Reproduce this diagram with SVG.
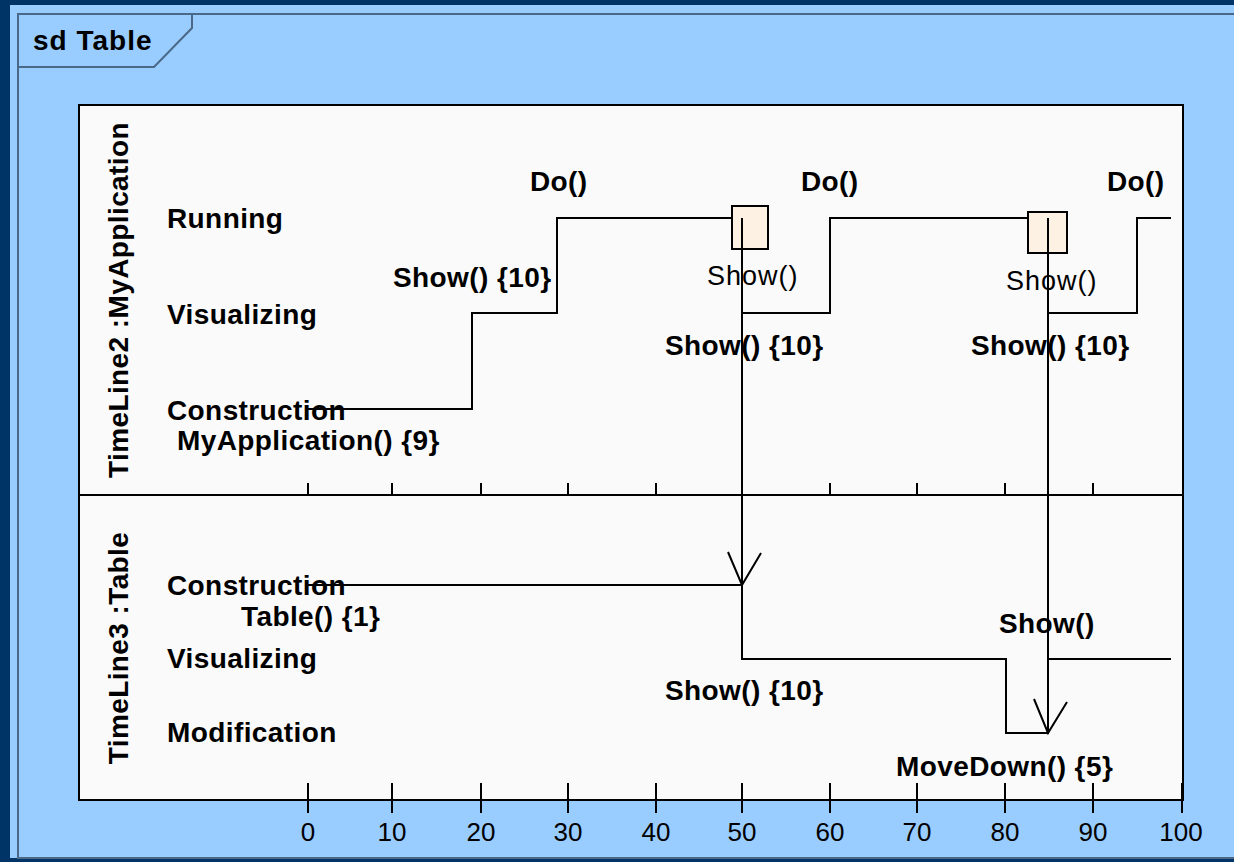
<svg xmlns="http://www.w3.org/2000/svg" width="1234" height="862" viewBox="0 0 1234 862">
<style>
.b{font-family:"Liberation Sans",Arial,sans-serif;font-weight:bold;font-size:28px;letter-spacing:0.4px;fill:#000}
.r{font-family:"Liberation Sans",Arial,sans-serif;font-size:27px;letter-spacing:1px;fill:#000}
.ax{font-family:"Liberation Sans",Arial,sans-serif;font-size:26px;fill:#000;text-anchor:middle}
.ln{fill:none;stroke:#000;stroke-width:2}
.tk{stroke:#000;stroke-width:2}
.box{fill:#FCF1E3;stroke:#000;stroke-width:2}
</style>
<rect x="0" y="0" width="1234" height="862" fill="#003366"/>
<rect x="10" y="5" width="1224" height="853" fill="#99CCFF"/>
<g id="frame">
<rect x="18" y="14" width="1230" height="844" fill="none" stroke="#4A6888" stroke-width="2"/>
<path d="M18,67 H154 L192,28 V14" fill="none" stroke="#4A6888" stroke-width="2"/>
<text class="b" x="33" y="50" style="letter-spacing:1px">sd Table</text>
</g>
<g id="panel">
<rect x="79" y="105" width="1104" height="695" fill="#FAFAFA" stroke="#000" stroke-width="2"/>
<line class="tk" x1="79" y1="495" x2="1183" y2="495"/>
<path class="tk" d="M308,483V495M392,483V495M481,483V495M568,483V495M656,483V495M830,483V495M917,483V495M1005,483V495M1093,483V495"/>
<path class="tk" d="M308,783V813M392,783V813M481,783V813M568,783V813M656,783V813M742,783V813M830,783V813M917,783V813M1005,783V813M1093,783V813M1182,783V813"/>
</g>
<g id="axis">
<text class="ax" x="308" y="841">0</text>
<text class="ax" x="392" y="841">10</text>
<text class="ax" x="481" y="841">20</text>
<text class="ax" x="568" y="841">30</text>
<text class="ax" x="656" y="841">40</text>
<text class="ax" x="742" y="841">50</text>
<text class="ax" x="830" y="841">60</text>
<text class="ax" x="917" y="841">70</text>
<text class="ax" x="1005" y="841">80</text>
<text class="ax" x="1093" y="841">90</text>
<text class="ax" x="1181" y="841">100</text>
</g>
<g id="timeline2">
<text class="b" transform="translate(128,300) rotate(-90)" text-anchor="middle">TimeLine2 :MyApplication</text>
<text class="b" x="167" y="228">Running</text>
<text class="b" x="167" y="324">Visualizing</text>
<text class="b" x="167" y="420">Construction</text>
</g>
<g id="timeline3">
<text class="b" transform="translate(128,648) rotate(-90)" text-anchor="middle">TimeLine3 :Table</text>
<text class="b" x="167" y="595">Construction</text>
<text class="b" x="167" y="668">Visualizing</text>
<text class="b" x="167" y="742">Modification</text>
</g>
<g id="connectors">
<path class="ln" d="M308,409 H472 V313 H557 V218 H742 V313 H830 V218 H1048 V313 H1137 V218 H1171"/>
<path class="ln" d="M308,585 H742 V659 H1006 V733 H1048 V659 H1171"/>
<g id="box1"><rect class="box" x="732" y="206" width="36" height="43"/></g>
<g id="box2"><rect class="box" x="1028" y="212" width="39" height="41"/></g>
<line class="tk" x1="742" y1="218" x2="742" y2="585"/>
<path class="ln" d="M728,552 L742,585 L761,553"/>
<line class="tk" x1="1048" y1="218" x2="1048" y2="733"/>
<path class="ln" d="M1034,699 L1048,733 L1067,702"/>
</g>
<g id="labels">
<text class="b" x="177" y="450">MyApplication() {9}</text>
<text class="b" x="393" y="287">Show() {10}</text>
<text class="b" x="530" y="191">Do()</text>
<text class="b" x="801" y="191">Do()</text>
<text class="b" x="1107" y="191">Do()</text>
<text class="r" x="707" y="285">Show()</text>
<text class="r" x="1006" y="290">Show()</text>
<text class="b" x="665" y="355">Show() {10}</text>
<text class="b" x="971" y="355">Show() {10}</text>
<text class="b" x="241" y="626">Table() {1}</text>
<text class="b" x="665" y="700">Show() {10}</text>
<text class="b" x="999" y="633">Show()</text>
<text class="b" x="896" y="776">MoveDown() {5}</text>
</g>
</svg>
